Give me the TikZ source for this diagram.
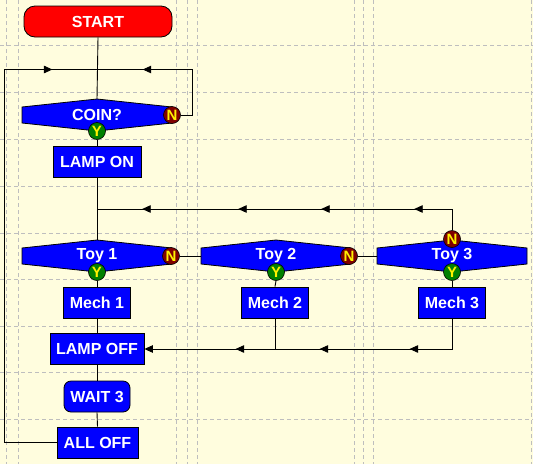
\documentclass[tikz,border=0pt]{standalone}
\usepackage{fontspec}
\setmainfont{Liberation Sans}
\usetikzlibrary{arrows.meta,decorations.markings}
\definecolor{bgy}{RGB}{255,253,222}
\definecolor{gridg}{RGB}{190,190,190}
\definecolor{nred}{RGB}{128,0,0}
\definecolor{ygreen}{RGB}{0,128,0}
\definecolor{fblue}{RGB}{0,0,255}
\definecolor{fred}{RGB}{255,0,0}
\newcommand\dechex[1]{\filldraw[decshape] (#1) ++(-75,-8) -- ++(75,-8) -- ++(75,8) -- ++(0,16) -- ++(-75,8) -- ++(-75,-8) -- cycle;}
\begin{document}
\begin{tikzpicture}[x=1pt,y=-1pt,
  tri/.tip={Triangle[length=8.5pt,width=7.5pt]},
  gridline/.style={draw=gridg, line width=0.8pt, dash pattern=on 4pt off 3pt},
  conn/.style={draw=black, line width=0.9pt},
  lbl/.style={text=white, font=\fontsize{16}{18}\selectfont\bfseries},
  box/.style={lbl, draw=black, fill=fblue, line width=0.8pt, minimum height=31pt, inner sep=0pt},
  term/.style={box, fill=fred, rounded corners=11pt},
  decshape/.style={draw=black, fill=fblue, line width=0.8pt},
  dectext/.style={lbl, minimum width=150pt, minimum height=32pt, inner sep=0pt},
  ncirc/.style={circle, draw=black, fill=nred, text=yellow, minimum size=17pt, inner sep=0pt, line width=0.6pt, font=\fontsize{15}{15}\selectfont\bfseries},
  ycirc/.style={ncirc, fill=ygreen},
]
\fill[bgy] (0,0) rectangle (533,464);
\useasboundingbox (0,0) rectangle (533,464);
\foreach \x in {6,18,176,187,197,354,363,373,531} \draw[gridline] (\x,0) -- (\x,464);
\foreach \y in {45,92,139,186,233,279,326,372,419} \draw[gridline] (0,\y) -- (533,\y);

% nodes
\node[term, minimum width=148pt] (start) at (98,21.5) {START};

\coordinate (cc) at (97,115);
\dechex{cc}
\node[dectext] (coin) at (cc) {COIN?};
\node[ncirc] (coinN) at (172,115) {N};
\node[ycirc] (coinY) at (97,131) {Y};

\node[box, minimum width=88pt] (lampon) at (97,162) {LAMP ON};

\coordinate (c1) at (97,256);
\coordinate (c2) at (276,256);
\coordinate (c3) at (452,256);
\dechex{c1}
\dechex{c2}
\dechex{c3}
\node[dectext] (t1) at (c1) {Toy 1};
\node[dectext] (t2) at (c2) {Toy 2};
\node[dectext] (t3) at (c3) {Toy 3};
\node[ncirc] (t1N) at (171,256) {N};
\node[ncirc] (t2N) at (349,256) {N};
\node[ncirc] (t3N) at (452,239) {N};
\node[ycirc] (t1Y) at (97,272) {Y};
\node[ycirc] (t2Y) at (276,272) {Y};
\node[ycirc] (t3Y) at (452,272) {Y};

\node[box, minimum width=67pt] (m1) at (97,302.5) {Mech 1};
\node[box, minimum width=67pt] (m2) at (275,302.5) {Mech 2};
\node[box, minimum width=67pt] (m3) at (452,302.5) {Mech 3};

\node[box, minimum width=94pt] (lampoff) at (97,349) {LAMP OFF};
\node[box, minimum width=66pt, rounded corners=7pt] (wait) at (97,396.5) {WAIT 3};
\node[box, minimum width=81pt] (alloff) at (97.5,442.5) {ALL OFF};

% junction coordinates
\coordinate (j1) at (97,69.5);
\coordinate (lx) at (4,69.5);
\coordinate (rx) at (192,69.5);
\coordinate (j2) at (97,209);
\coordinate (rt) at (452,209);
\coordinate (rb) at (452,349);

% connectors
\draw[conn] (start.south) -- (coin.north);
\draw[conn, postaction={decorate}, decoration={markings,
   mark=at position 474pt with {\arrow{tri}}}]
   (alloff.west) -| (lx) -- (j1);
\draw[conn, postaction={decorate}, decoration={markings,
   mark=at position 106pt with {\arrow{tri}}}]
   (coinN.east) -| (rx) -- (j1);
\draw[conn] (coinY.south) -- (lampon.north);
\draw[conn] (lampon.south) -- (t1.north);
\draw[conn, postaction={decorate}, decoration={markings,
   mark=at position 59pt with {\arrow{tri}},
   mark=at position 152pt with {\arrow{tri}},
   mark=at position 235pt with {\arrow{tri}},
   mark=at position 331pt with {\arrow{tri}}}]
   (t3N.north) -- (rt) -- (j2);
\draw[conn] (t1N.east) -- (t2.west);
\draw[conn] (t2N.east) -- (t3.west);
\draw[conn] (t1Y.south) -- (m1.north);
\draw[conn] (t2Y.south) -- (m2.north);
\draw[conn] (t3Y.south) -- (m3.north);
\draw[conn] (m1.south) -- (lampoff.north);
\draw[conn, -tri, postaction={decorate}, decoration={markings,
   mark=at position 73pt with {\arrow{tri}},
   mark=at position 163pt with {\arrow{tri}},
   mark=at position 247pt with {\arrow{tri}}}]
   (m3.south) -- (rb) -- (lampoff.east);
\draw[conn] (m2.south) -- (m2.south |- rb);
\draw[conn] (lampoff.south) -- (wait.north);
\draw[conn] (wait.south) -- (alloff.north);
\end{tikzpicture}
\end{document}
